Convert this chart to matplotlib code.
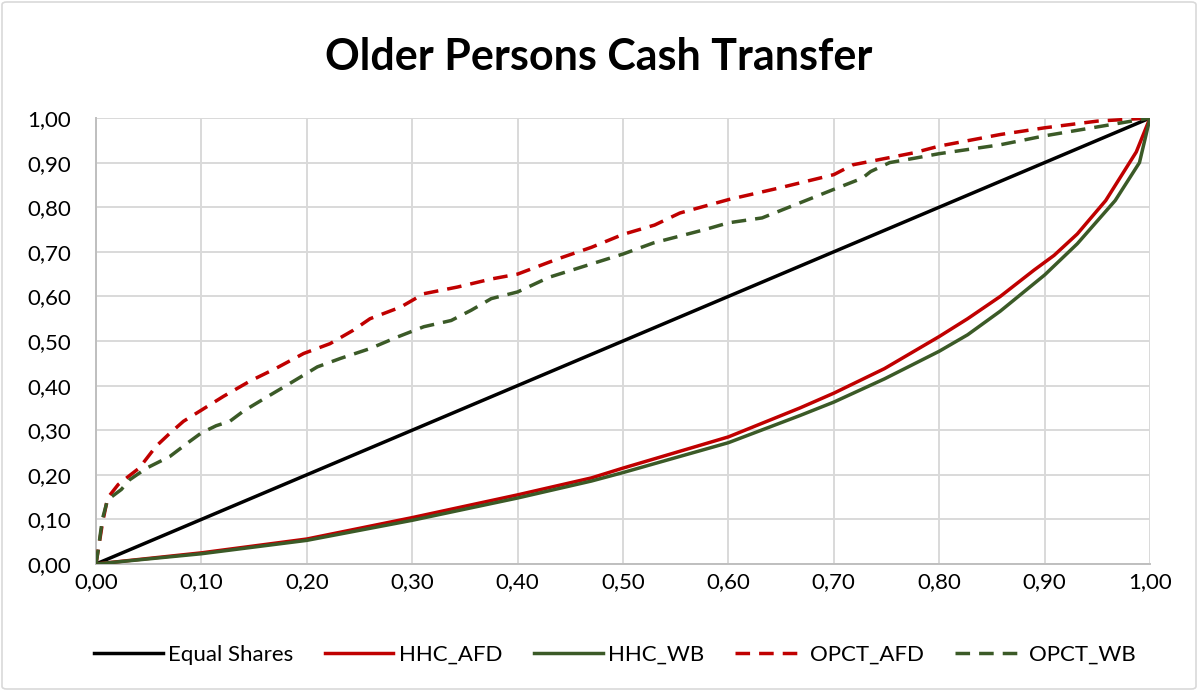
import matplotlib
matplotlib.use("Agg")
import matplotlib.pyplot as plt
from matplotlib.patches import FancyBboxPatch
from matplotlib.ticker import FuncFormatter, MultipleLocator

# ---- data ----
equal_x = [0.0, 1.0]
equal_y = [0.0, 1.0]

hhc_afd_x = [0, 0.1, 0.2, 0.3, 0.4, 0.47, 0.5, 0.6, 0.668, 0.7, 0.748, 0.8, 0.827, 0.858, 0.89, 0.909, 0.931, 0.958, 0.987, 1.0]
hhc_afd_y = [0, 0.025, 0.056, 0.104, 0.155, 0.193, 0.215, 0.285, 0.35, 0.383, 0.438, 0.51, 0.55, 0.6, 0.659, 0.692, 0.74, 0.815, 0.924, 1.0]

hhc_wb_x = [0, 0.1, 0.2, 0.3, 0.4, 0.47, 0.5, 0.6, 0.668, 0.7, 0.748, 0.8, 0.827, 0.858, 0.9, 0.931, 0.967, 0.99, 1.0]
hhc_wb_y = [0, 0.023, 0.053, 0.098, 0.148, 0.186, 0.205, 0.272, 0.333, 0.363, 0.415, 0.477, 0.514, 0.567, 0.648, 0.718, 0.815, 0.9, 1.0]

opct_afd_x = [0, 0.006, 0.011, 0.021, 0.029, 0.041, 0.057, 0.07, 0.083, 0.10, 0.121, 0.146, 0.171, 0.197, 0.222, 0.244, 0.26, 0.289, 0.311, 0.343, 0.375, 0.40, 0.438, 0.47, 0.5, 0.53, 0.554, 0.6, 0.648, 0.7, 0.718, 0.776, 0.8, 0.858, 0.9, 0.95, 1.0]
opct_afd_y = [0, 0.09, 0.148, 0.178, 0.193, 0.215, 0.264, 0.293, 0.32, 0.345, 0.376, 0.41, 0.439, 0.472, 0.494, 0.524, 0.55, 0.576, 0.606, 0.621, 0.639, 0.65, 0.684, 0.71, 0.739, 0.76, 0.787, 0.817, 0.843, 0.873, 0.895, 0.922, 0.937, 0.963, 0.978, 0.993, 1.0]

opct_wb_x = [0, 0.002, 0.006, 0.011, 0.024, 0.032, 0.048, 0.07, 0.089, 0.1, 0.114, 0.127, 0.14, 0.159, 0.184, 0.21, 0.232, 0.26, 0.286, 0.311, 0.337, 0.356, 0.375, 0.4, 0.43, 0.5, 0.529, 0.578, 0.6, 0.632, 0.7, 0.727, 0.735, 0.753, 0.777, 0.8, 0.858, 0.9, 0.95, 1.0]
opct_wb_y = [0, 0.03, 0.1, 0.144, 0.167, 0.189, 0.215, 0.241, 0.275, 0.294, 0.31, 0.32, 0.343, 0.37, 0.405, 0.442, 0.461, 0.483, 0.509, 0.532, 0.546, 0.569, 0.595, 0.61, 0.643, 0.695, 0.72, 0.75, 0.765, 0.776, 0.84, 0.865, 0.88, 0.9, 0.91, 0.92, 0.94, 0.96, 0.98, 1.0]

title = "Older Persons Cash Transfer"
labels = ["Equal Shares", "HHC_AFD", "HHC_WB", "OPCT_AFD", "OPCT_WB"]

RED = "#C00000"
GREEN = "#3B5A27"

plt.rcParams['font.family'] = ['Lato', 'DejaVu Sans']

W, H = 1198, 691
fig = plt.figure(figsize=(W / 100, H / 100), dpi=100)
ax = fig.add_axes([96 / W, 1 - 564 / H, (1150 - 96) / W, (564 - 118) / H])

lw = 2.5
dash = (4.2, 2.6)
ax.plot(equal_x, equal_y, color="black", lw=lw, label=labels[0], zorder=3)
ax.plot(hhc_afd_x, hhc_afd_y, color=RED, lw=lw, label=labels[1], zorder=3)
ax.plot(hhc_wb_x, hhc_wb_y, color=GREEN, lw=lw, label=labels[2], zorder=3)
ax.plot(opct_afd_x, opct_afd_y, color=RED, lw=lw, ls=(0, dash), label=labels[3], zorder=3)
ax.plot(opct_wb_x, opct_wb_y, color=GREEN, lw=lw, ls=(0, dash), label=labels[4], zorder=3)

ax.set_xlim(0, 1)
ax.set_ylim(0, 1)
ax.xaxis.set_major_locator(MultipleLocator(0.1))
ax.yaxis.set_major_locator(MultipleLocator(0.1))
fmt = FuncFormatter(lambda v, p: f"{v:.2f}".replace(".", ","))
ax.xaxis.set_major_formatter(fmt)
ax.yaxis.set_major_formatter(fmt)
ax.grid(True, color="#d9d9d9", lw=1.4, zorder=0)
ax.set_axisbelow(True)
for s in ["top", "right"]:
    ax.spines[s].set_visible(False)
for s in ["left", "bottom"]:
    ax.spines[s].set_color("#bfbfbf")
    ax.spines[s].set_linewidth(1.4)
ax.tick_params(axis="both", length=0, labelsize=16, colors="black")
ax.tick_params(axis="x", pad=6)
ax.tick_params(axis="y", pad=18)

fig.text(0.5, 1 - 57 / H, title, ha="center", va="center", fontsize=31, fontweight="bold")

leg = fig.legend(loc="center", bbox_to_anchor=(615 / W, 1 - 655 / H), ncol=5, frameon=False,
                 fontsize=16, handlelength=3.1, columnspacing=1.4, handletextpad=0.25)

border = FancyBboxPatch((2 / W, 2 / H), 1 - 4 / W, 1 - 4 / H, boxstyle="round,pad=0,rounding_size=0.004",
                        transform=fig.transFigure, fill=False, edgecolor="#d9d9d9", lw=1.2)
fig.patches.append(border)

fig.savefig("out.png", dpi=100, facecolor="white")
